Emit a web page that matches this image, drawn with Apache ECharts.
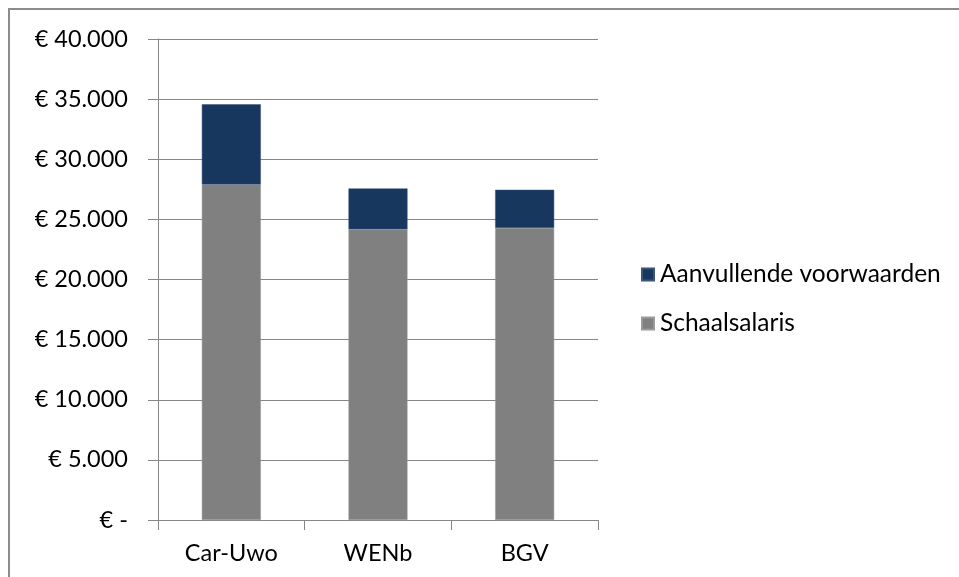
<!DOCTYPE html>
<html>
<head>
<meta charset="utf-8">
<script src="https://cdn.jsdelivr.net/npm/echarts@6/dist/echarts.min.js"></script>
<style>
  html, body { margin: 0; padding: 0; background: #fff; }
  #chart { width: 959px; height: 577px; }
</style>
</head>
<body>
<div id="chart"></div>
<script>
// Salary comparison per collective agreement
const categories = ['Car-Uwo', 'WENb', 'BGV'];
const schaalsalaris = [27900, 24170, 24290];
const aanvullend = [6670, 3400, 3170];
const seriesNames = ['Aanvullende voorwaarden', 'Schaalsalaris'];
const yMin = 0, yMax = 40000, yStep = 5000;

const FONT = 'Lato, "Open Sans", sans-serif';

function euro(v) {
  if (v === 0) return '€ -';
  return '€ ' + String(v).replace(/\B(?=(\d{3})+(?!\d))/g, '.');
}

const chart = echarts.init(document.getElementById('chart'));
chart.setOption({
  animation: false,
  backgroundColor: '#fff',
  graphic: [{
    type: 'polyline',
    shape: { points: [[9, 600], [9, 9], [970, 9]] },
    style: { stroke: '#8c8c8c', lineWidth: 2, fill: null }
  }],
  legend: {
    orient: 'vertical',
    left: 641,
    top: 262,
    padding: 0,
    itemWidth: 12,
    itemHeight: 12,
    itemGap: 24,
    icon: 'rect',
    data: seriesNames,
    textStyle: { fontFamily: FONT, fontSize: 24.5, color: '#000', padding: [0, 0, 0, 1] }
  },
  grid: { left: 158, top: 39, right: 361, bottom: 57, containLabel: false },
  xAxis: {
    type: 'category',
    data: categories,
    axisLine: { lineStyle: { color: '#868686', width: 1 } },
    axisTick: { show: true, length: 10, lineStyle: { color: '#868686' } },
    axisLabel: { fontFamily: FONT, fontSize: 23.5, color: '#000', margin: 21 }
  },
  yAxis: {
    type: 'value',
    min: yMin, max: yMax, interval: yStep,
    axisLine: { show: true, lineStyle: { color: '#868686', width: 1 } },
    axisTick: { show: true, length: 10, lineStyle: { color: '#868686' } },
    splitLine: { lineStyle: { color: '#868686', width: 1 } },
    axisLabel: { fontFamily: FONT, fontSize: 23.5, color: '#000', margin: 30, formatter: euro }
  },
  series: [
    {
      name: 'Schaalsalaris',
      type: 'bar',
      stack: 'total',
      barWidth: 59,
      data: schaalsalaris,
      itemStyle: { color: '#808080', borderColor: '#9a9a9a', borderWidth: 0.5 }
    },
    {
      name: 'Aanvullende voorwaarden',
      type: 'bar',
      stack: 'total',
      barWidth: 59,
      data: aanvullend,
      itemStyle: { color: '#17375e', borderColor: '#3a5578', borderWidth: 0.5 }
    }
  ]
});
</script>
</body>
</html>
